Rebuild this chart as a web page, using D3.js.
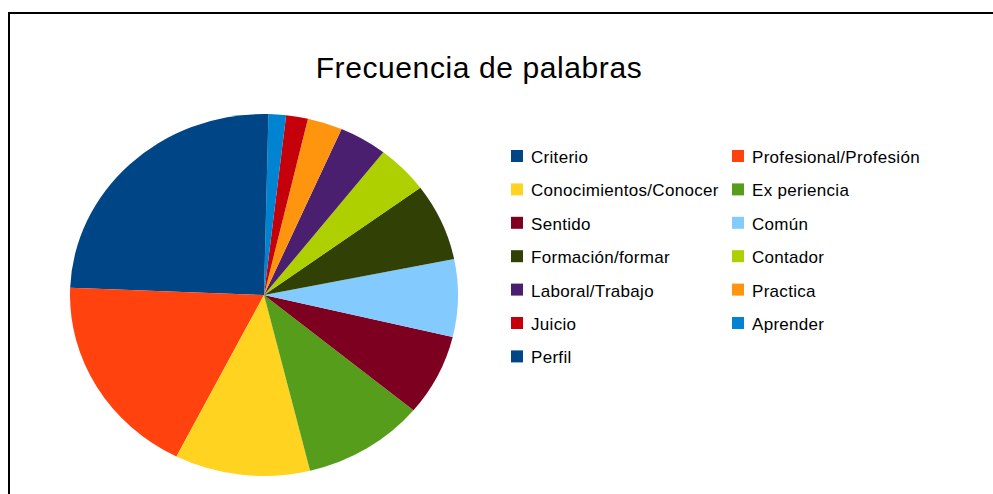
<!DOCTYPE html>
<html>
<head>
<meta charset="utf-8">
<script src="https://cdn.jsdelivr.net/npm/d3@7"></script>
<style>
  body { margin: 0; background: #fff; }
  text { font-family: "Liberation Sans", Arial, sans-serif; }
</style>
</head>
<body>
<div id="chart"></div>
<script>
/* DATA */
const categories = ["Criterio", "Profesional/Profesión", "Conocimientos/Conocer", "Ex periencia",
  "Sentido", "Común", "Formación/formar", "Contador", "Laboral/Trabajo", "Practica",
  "Juicio", "Aprender", "Perfil"];
const counts = [67, 50, 31, 28, 20, 19, 19, 12, 11, 8, 5, 4, 1];
const colors = ["#004586", "#ff420e", "#ffd320", "#579d1c", "#7e0021", "#83caff",
  "#314004", "#aecf00", "#4b1f6f", "#ff950e", "#c5000b", "#0084d1", "#004586"];
const title = "Frecuencia de palabras";

/* CONSTANTS */
const width = 993,
  height = 494,
  center = { x: 264, y: 295 },
  rx = 194,
  ry = 181;

const data = categories.map((c, i) => ({ name: c, value: counts[i] }));

const svg = d3.select("#chart")
  .append("svg")
  .attr("width", width)
  .attr("height", height);

// frame (only top and left edges are visible in the window)
svg.append("rect")
  .attr("x", 9)
  .attr("y", 13)
  .attr("width", width + 20)
  .attr("height", height + 20)
  .attr("fill", "none")
  .attr("stroke", "#000")
  .attr("stroke-width", 2);

svg.append("text")
  .attr("x", 479)
  .attr("y", 78)
  .attr("text-anchor", "middle")
  .attr("font-size", 30)
  .attr("letter-spacing", 0.6)
  .attr("fill", "#000")
  .text(title);

// PIE, counterclockwise from 12 o'clock, squashed slightly vertically
const pie = d3.pie()
  .value(d => d.value)
  .sort(null)
  .startAngle(0)
  .endAngle(-2 * Math.PI);

const arc = d3.arc()
  .innerRadius(0)
  .outerRadius(rx);

const color = d3.scaleOrdinal()
  .domain(d3.range(categories.length))
  .range(colors);

const g = svg.append("g")
  .attr("transform", `translate(${center.x}, ${center.y}) scale(1, ${ry / rx})`);

g.selectAll("path")
  .data(pie(data))
  .join("path")
  .attr("d", arc)
  .attr("fill", (d, i) => color(i));

// LEGEND, two columns
const legend = svg.append("g");
const colX = [511, 732],
  rowY0 = 156,
  rowStep = 33.4;

const item = legend.selectAll("g")
  .data(data)
  .join("g")
  .attr("transform", (d, i) => `translate(${colX[i % 2]}, ${rowY0 + Math.floor(i / 2) * rowStep})`);

item.append("rect")
  .attr("x", 0)
  .attr("y", -6)
  .attr("width", 12)
  .attr("height", 12)
  .attr("fill", (d, i) => color(i));

item.append("text")
  .attr("x", 20)
  .attr("y", 7)
  .attr("font-size", 17)
  .attr("letter-spacing", 0.3)
  .attr("fill", "#000")
  .text(d => d.name);
</script>
</body>
</html>
